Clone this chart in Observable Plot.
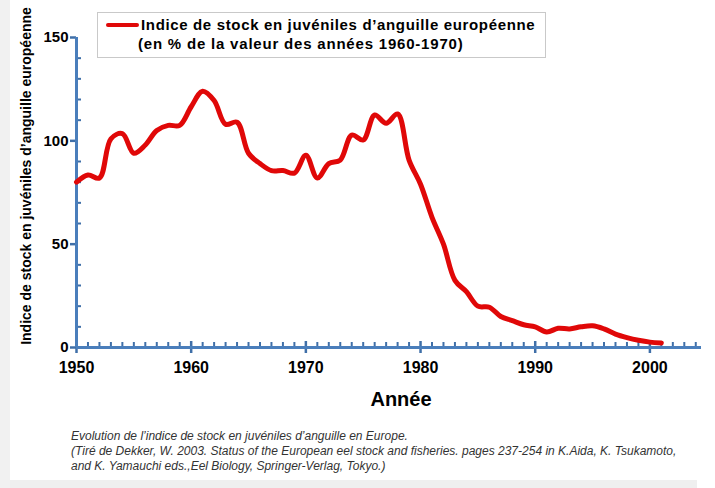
<!DOCTYPE html>
<html>
<head>
<meta charset="utf-8">
<script src="https://cdn.jsdelivr.net/npm/d3@7"></script>
<script src="https://cdn.jsdelivr.net/npm/@observablehq/plot@0.6"></script>
<style>
  html, body { margin: 0; padding: 0; background: #fff; }
  #wrap { position: relative; width: 715px; height: 488px; background: #fff; overflow: hidden;
          font-family: "Liberation Sans", Arial, sans-serif; }
  #wrap svg { position: absolute; left: 0; top: 0; }
  .abs { position: absolute; white-space: nowrap; }
  #leftstrip { left: 0; top: 0; width: 10px; height: 488px; background: #f1f1f1; }
  #bottomband { left: 10px; top: 480px; width: 687px; height: 8px; background: #efefef; }
  #legend { left: 97px; top: 12px; width: 447px; height: 44px; border: 1px solid #c9c9c9; background: #fff; }
  #legline { left: 8px; top: 10px; width: 33px; height: 4px; background: #e00808; border-radius: 2px; }
  .legtxt { font-size: 15px; font-weight: bold; color: #000; line-height: 17px; }
  #ytitle { font-size: 14px; font-weight: bold; color: #000; left: 26px; top: 176px;
            transform: translate(-50%, -50%) rotate(-90deg); }
  #xtitle { font-size: 20px; font-weight: bold; color: #000; left: 401px; top: 399px; transform: translate(-50%, -50%); }
  .cap { font-size: 12px; font-style: italic; color: #333; left: 71px; line-height: 14px; }
</style>
</head>
<body>
<div id="wrap">
  <div id="leftstrip" class="abs"></div>
  <div id="bottomband" class="abs"></div>
</div>
<script>
// ---- data ----
const years = [1950,1951,1952,1953,1954,1955,1956,1957,1958,1959,
               1960,1961,1962,1963,1964,1965,1966,1967,1968,1969,
               1970,1971,1972,1973,1974,1975,1976,1977,1978,1979,
               1980,1981,1982,1983,1984,1985,1986,1987,1988,1989,
               1990,1991,1992,1993,1994,1995,1996,1997,1998,1999,
               2000,2001];
const values = [80,83.5,82,101,103.5,94,98,105,107.5,107.5,
                116.5,124,119.5,108,109,94,89,85.6,85.6,84.4,
                93,82,89,90.7,102.8,100.4,112.5,108.5,113,90.7,
                79,63,50,32.5,27,20,19.5,15,13,11,
                10,7.5,9.3,9,10,10.5,9,6.5,4.8,3.5,
                2.6,2.2];
const decadeTicks = [1950,1960,1970,1980,1990,2000];
const yearTicks = [1951,1952,1953,1954,1955,1956,1957,1958,1959,1961,1962,1963,1964,1965,1966,1967,1968,1969,
                   1971,1972,1973,1974,1975,1976,1977,1978,1979,1981,1982,1983,1984,1985,1986,1987,1988,1989,
                   1991,1992,1993,1994,1995,1996,1997,1998,1999,2001,2002,2003,2004];
const yMajorTicks = [0,50,100,150];
const yMinorTicks = [10,20,30,40,60,70,80,90,110,120,130,140];

const legendLine1 = "Indice de stock en juvéniles d’anguille européenne";
const legendLine2 = "(en % de la valeur des années 1960-1970)";
const yTitle = "Indice de stock en juvéniles d’anguille européenne";
const xTitle = "Année";
const captionLines = [
  "Evolution de l’indice de stock en juvéniles d’anguille en Europe.",
  "(Tiré de Dekker, W. 2003. Status of the European eel stock and fisheries. pages 237-254 in K.Aida, K. Tsukamoto,",
  "and K. Yamauchi eds.,Eel Biology, Springer-Verlag, Tokyo.)"
];

const data = years.map((y, i) => ({year: y, value: values[i]}));
const axisBlue = "#4a7ebb";
const tickBlue = "#3f6fa8";
const red = "#e00808";

const W = 715, H = 400, ML = 76, MR = 14, MT = 37, MB = 53;
const frameW = W - ML - MR, frameH = H - MT - MB;

const chart = Plot.plot({
  width: W,
  height: H,
  marginLeft: ML,
  marginRight: MR,
  marginTop: MT,
  marginBottom: MB,
  x: {domain: [1950, 2004.5], label: null},
  y: {domain: [0, 150], label: null},
  style: {fontFamily: "Liberation Sans, Arial, sans-serif", background: "transparent", overflow: "visible"},
  marks: [
    // minor x ticks (upward from the axis)
    Plot.ruleX(yearTicks, {x: d => d, stroke: tickBlue, strokeWidth: 2, insetTop: frameH - 5, insetBottom: 0}),
    // major x ticks (crossing the axis)
    Plot.ruleX(decadeTicks, {x: d => d, stroke: tickBlue, strokeWidth: 2.5, insetTop: frameH - 6, insetBottom: -6}),
    // minor y ticks (right of the axis)
    Plot.ruleY(yMinorTicks, {y: d => d, stroke: tickBlue, strokeWidth: 2, insetLeft: 0, insetRight: frameW - 5}),
    // major y ticks (left of the axis)
    Plot.ruleY(yMajorTicks, {y: d => d, stroke: tickBlue, strokeWidth: 2.5, insetLeft: -6, insetRight: frameW}),
    // x labels
    Plot.axisX({ticks: decadeTicks, tickSize: 0, tickPadding: 14, tickFormat: d => String(d), label: null,
                fontSize: 16, fontWeight: "bold", fill: "#000", stroke: "none"}),
    // y labels
    Plot.axisY({ticks: yMajorTicks, tickSize: 6, tickPadding: 2, tickFormat: d => String(d), label: null,
                fontSize: 15, fontWeight: "bold", fill: "#000", stroke: "none"}),
    // axis lines
    Plot.ruleY([0], {stroke: axisBlue, strokeWidth: 3}),
    Plot.ruleX([1950], {stroke: axisBlue, strokeWidth: 3}),
    // series
    Plot.line(data, {x: "year", y: "value", stroke: red, strokeWidth: 5, curve: "catmull-rom",
                     strokeLinecap: "round", strokeLinejoin: "round"})
  ]
});

const wrap = document.getElementById("wrap");
wrap.appendChild(chart);

function addDiv(cls, id, text, styles) {
  const d = document.createElement("div");
  d.className = "abs " + (cls || "");
  if (id) d.id = id;
  if (text != null) d.textContent = text;
  Object.assign(d.style, styles || {});
  return d;
}

// legend
const legend = addDiv("", "legend");
legend.appendChild(addDiv("", "legline"));
legend.appendChild(addDiv("legtxt", null, legendLine1, {left: "43px", top: "3px", letterSpacing: "0.65px"}));
legend.appendChild(addDiv("legtxt", null, legendLine2, {left: "40px", top: "22px", letterSpacing: "0.8px"}));
wrap.appendChild(legend);

// axis titles
wrap.appendChild(addDiv("", "ytitle", yTitle));
wrap.appendChild(addDiv("", "xtitle", xTitle));

// caption
const capTops = [429, 444, 459];
captionLines.forEach((t, i) => wrap.appendChild(addDiv("cap", null, t, {top: capTops[i] + "px"})));
</script>
</body>
</html>
